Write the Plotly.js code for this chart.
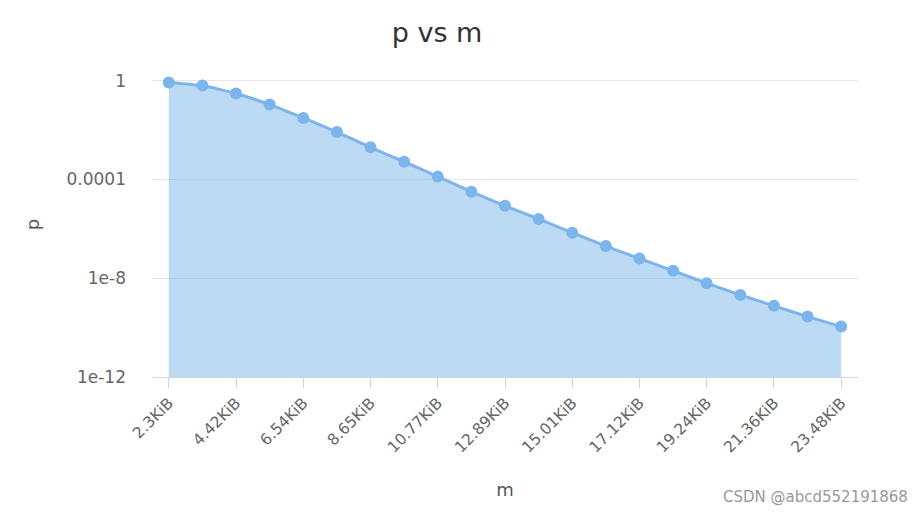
<!DOCTYPE html>
<html>
<head>
<meta charset="utf-8">
<script src="https://cdn.plot.ly/plotly-3.0.1.min.js"></script>
<style>html,body{margin:0;padding:0;background:#fff;}#chart{width:924px;height:512px;}</style>
</head>
<body>
<div id="chart"></div>
<script>
const categories = ["2.3KiB","3.36KiB","4.42KiB","5.48KiB","6.54KiB","7.59KiB","8.65KiB","9.71KiB","10.77KiB","11.83KiB","12.89KiB","13.95KiB","15.01KiB","16.06KiB","17.12KiB","18.18KiB","19.24KiB","20.3KiB","21.36KiB","22.42KiB","23.48KiB"];
const pValues = [0.85, 0.63, 0.30, 0.107, 0.031, 0.0083, 0.0020, 5.2e-4, 1.3e-4, 3.2e-5, 8.5e-6, 2.5e-6, 7.0e-7, 2.0e-7, 6.3e-8, 2.0e-8, 6.3e-9, 2.1e-9, 7.6e-10, 2.8e-10, 1.1e-10];
const baseline = categories.map(() => 1e-12);
const yTickVals = [1, 1e-4, 1e-8, 1e-12];
const yTickText = ["1", "0.0001", "1e-8", "1e-12"];
const xTickVals = categories.filter((c, i) => i % 2 === 0);

const font = "DejaVu Sans, Open Sans, sans-serif";

const traces = [
  {
    x: categories, y: baseline, type: "scatter", mode: "lines",
    line: {width: 0, color: "rgba(0,0,0,0)"}, hoverinfo: "skip", showlegend: false
  },
  {
    x: categories, y: pValues, type: "scatter", mode: "lines+markers",
    fill: "tonexty", fillcolor: "rgba(124,181,236,0.5)",
    line: {color: "#7cb5ec", width: 3, shape: "spline", smoothing: 0.4},
    marker: {color: "#7cb5ec", size: 12},
    showlegend: false
  }
];

const layout = {
  width: 924, height: 512,
  margin: {l: 152, r: 66, t: 72, b: 135},
  paper_bgcolor: "#fff", plot_bgcolor: "#fff",
  font: {family: font, color: "#666"},
  title: {text: "p vs m", font: {family: font, size: 27, color: "#333"}, x: 0.473, xanchor: "center", y: 0.937, yanchor: "middle"},
  xaxis: {
    type: "category", range: [-0.5, 20.5],
    tickmode: "array", tickvals: xTickVals, ticktext: xTickVals,
    tickangle: -45, tickfont: {size: 15.5, color: "#666"},
    ticks: "outside", ticklen: 10, tickcolor: "#ccd6eb", tickwidth: 1,
    showline: true, linecolor: "#ccd6eb", linewidth: 1,
    showgrid: false, zeroline: false,
    title: {text: "m", font: {size: 18, color: "#555"}, standoff: 28}
  },
  yaxis: {
    type: "log", range: [-12, 0.35],
    tickmode: "array", tickvals: yTickVals, ticktext: yTickText,
    tickfont: {size: 17, color: "#666"}, ticklabelstandoff: 25,
    ticks: "", showline: false,
    showgrid: true, gridcolor: "#e6e6e6", gridwidth: 1,
    zeroline: false,
    title: {text: "p", font: {size: 18, color: "#555"}, standoff: 22}
  },
  annotations: [
    {text: "CSDN @abcd552191868", xref: "paper", yref: "paper", x: 1.073, y: -0.393, xanchor: "right", yanchor: "middle",
     showarrow: false, font: {size: 15, color: "#999", family: font}}
  ]
};

Plotly.newPlot("chart", traces, layout, {displayModeBar: false, staticPlot: true});
</script>
</body>
</html>
